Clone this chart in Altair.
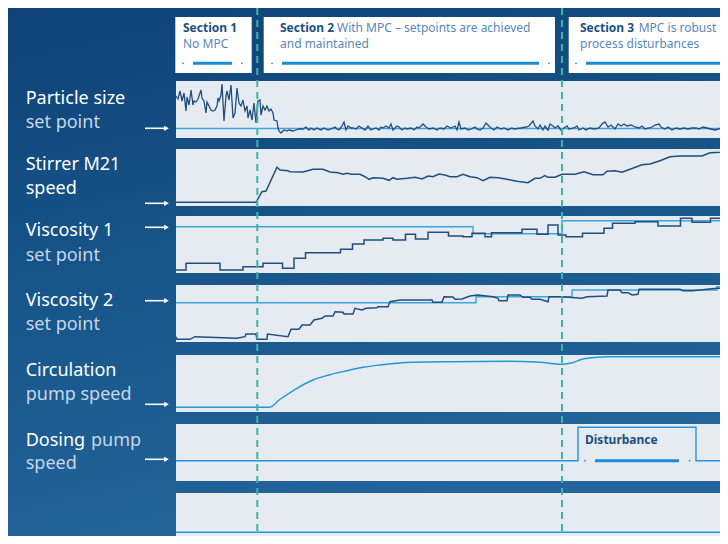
import altair as alt
import pandas as pd

# ---------------- values ----------------
# time axis: samples (0 = left edge of the trend panels); levels: panel units (0 = panel floor)
particle_size = [
    (0,42),(2,39),(4,47),(6,37),(8,45),(10,27),(11,41),(13,33),(15,48),(17,33),(18,37),(20,36),
    (22,39),(25,48),(26,40),(28,37),(30,25),(31,36),(33,32),(35,28),(37,27),(39,28),(41,32),(42,40),
    (43,37),(45,43),(46,54),(48,17),(50,42),(51,47),(53,38),(55,53),(57,20),(59,25),(61,50),(63,35),
    (65,32),(67,38),(69,27),(71,32),(72,20),(74,28),(76,18),(78,35),(80,15),(82,37),(84,38),(85,23),
    (87,32),(89,28),(91,32),(93,27),(95,29),(97,25),(98,18),(101,17),(102,10),(103,7),(105,5),(108,8),
    (111,7),(113,8),(117,7),(120,8),(123,9),
    (127,9),(130,11),(133,8),(135,10),(138,8),(141,10),(145,8),(148,10),(152,8),(155,9),(159,11),
    (161,9),(163,8),(166,12),(168,16),(170,8),(172,12),(175,10),(177,10),(180,9),(183,12),(186,10),
    (189,8),(192,12),(195,8),(197,9),(200,10),(203,8),(205,11),(207,10),(210,12),(213,10),(215,14),
    (217,8),(221,12),(223,11),(226,8),(229,10),(231,9),(235,10),(238,8),(241,11),(243,10),(247,14),
    (250,11),(253,9),(257,10),(261,8),(264,10),(268,9),(271,12),(275,10),(279,12),(281,8),(283,16),
    (285,9),(289,10),(292,8),(295,9),(299,11),(301,9),(304,8),(307,10),(310,15),(313,12),(315,10),
    (318,8),(321,11),(325,9),(328,10),(332,8),(336,10),(338,9),(345,10),(350,11),(353,12),(357,17),
    (359,12),(362,9),(364,13),(367,8),(369,12),(372,8),(374,14),(377,12),(379,10),(382,12),(385,8),
    (388,10),(391,12),(393,9),(398,10),(401,12),(403,8),(407,10),(410,8),(414,10),(418,9),(423,10),
    (426,14),(429,16),(432,11),(435,13),(439,9),(442,14),(445,12),(448,14),(451,12),(455,13),(459,11),
    (463,10),(466,12),(469,9),(473,10),(476,11),(479,13),(483,14),(485,11),(489,9),(492,11),(496,8),
    (500,10),(504,9),(508,10),(512,9),(516,10),(520,10),(523,9),(527,11),(531,10),(535,9),(539,8),
    (543,9),(547,12),(549,9),
]
particle_setpoint = [(0, 9.5), (552, 9.5)]

stirrer_speed = [
    (0,3.7),(80,3.7),(86,14.3),(90,15),(101,38.7),(104,36),(112,35.3),(114,34.3),(127,34),(137,36.7),
    (147,36.7),(154,34),(162,33.3),(167,31.7),(171,32.7),(176,31.7),(184,31.7),(189,29.3),(193,26.7),
    (197,28.3),(207,27.7),(213,25.7),(217,28.3),(221,26.7),(231,27.7),(239,28.7),(246,27),(252,30),
    (257,29.3),(263,32),(269,31),(274,29.3),(281,29.3),(287,31.7),(294,29.3),(301,28.3),(307,25.3),
    (314,28.7),(322,28.3),(331,26.7),(341,24.7),(352,23.3),(359,27.7),(364,27.7),(369,30.3),(372,28.7),
    (379,28.7),(386,31.7),(399,31.7),(408,34.3),(417,31.3),(427,31.3),(431,34.7),(439,35.3),(446,33.7),
    (454,36.7),(466,41.3),(474,42),(484,45.3),(494,49.3),(504,50),(526,50),(534,53.3),(544,53.7),(552,56),
]

viscosity1 = [
    (0,3),(10,9.7),(44,3),(67,6.3),(87,9.7),(106.5,4.7),(118,14.7),(129.5,20.3),(164.5,23.7),
    (176.5,29),(188,33),(207,34.7),(217,33),(229.5,38.7),(239.5,34),(252,40.7),(272.5,37),(287,36.3),
    (296,39.7),(309,36.3),(315.5,40.3),(346,43.7),(361,38.7),(372,48),(382,38),(390,36.3),(406.5,39.7),
    (428,44.7),(436.5,49.7),(459,51.3),(482,47),(504.5,54.7),(516,50.7),(534.5,54.7),(547,51.3),(552,51.3),
]
viscosity1_setpoint = [(0,46.3),(297,39.3),(386,52.3),(552,52.3)]

viscosity2 = [
    (0,5.3),(1,2.7),(14,2.7),(19,5.3),(61,3.7),(69,5.3),(70,8),(80,8),(81,2.7),(91,2.7),(91.5,8),
    (112,5.3),(115,12.7),(123,12.7),(126,17),(134,17),(138,22),(146,23.7),(149,26),(157,26),(159,30.3),
    (167,29.7),(168,28),(177,28),(179,33.7),(186,32),(190,33.7),(201,34.3),(202,35.3),(212,35.3),
    (214,40.3),(224,42),(256,42),(257,39.7),(266,39.7),(268,45.3),(277,45),(279,42.7),(286,43),(294,46),
    (302,47),(317,45.3),(322,43.7),(323,41.3),(331,41.3),(332,47),(344,47),(347,44.7),(354,44.7),
    (356,42.7),(364,42.7),(372,40.3),(373,45.3),(386,45.3),(406,43.7),(411,45.3),(431,46),(432,52),
    (444,52),(446,49.3),(452,49.3),(456,47),(462,47.7),(463,52.7),(504,52.7),(507,51.3),(517,51.3),
    (531,52.7),(541,53.7),(552,53.7),
]
viscosity2_setpoint = [(0,39.3),(300,45.3),(396,52),(541,55.3),(552,55.3)]

circulation_speed = [
    (0,4.7),(93,4.7),(104,12.7),(121,23.7),(137,32),(154,37.3),(171,41.3),(187,44.7),(204,47),
    (221,48.7),(237,49.7),(254,50),(274,50.3),(331,50.7),(364,49.7),(386,47.7),(394,48.7),(407,53),
    (421,54.7),(431,55.3),(552,55.3),
]
dosing_speed = [(0,20.3),(402,53.7),(520,20.3),(552,20.3)]
bottom_trace = [(0,11.7),(552,11.7)]

section_breaks = [81.3, 386]

# ---------------- styling / layout ----------------
W, H = 712, 528
FONT = "Noto Sans"
PANEL = "#e6ebf2"
DARK = "#214e7c"
SP = "#3aa6e0"
CIRC = "#2196d9"
TEAL = "#3db5a4"
DECO = "#1b8bd5"
TITLE = "#1d4f7f"
SUB = "#5a88b5"
BRIGHT = "#ffffff"
DIM = "#c6d7e9"

XS = alt.Scale(domain=[-168, 544], nice=False, zero=False)


def X(f):
    return alt.X(f, type="quantitative", scale=XS, axis=None)


def panel(band, series, labels, arrow_level, extras=None):
    top, bot = band
    span = bot - top
    ys = alt.Scale(domain=[0, span], range=[bot - 8, top - 8], nice=False, zero=False)

    def Y(f):
        return alt.Y(f, type="quantitative", scale=ys, axis=None)

    layers = []
    bg = pd.DataFrame({"t0": [0], "t1": [560], "v0": [0], "v1": [span]})
    layers.append(alt.Chart(bg).mark_rect(fill=PANEL, clip=True).encode(
        x=X("t0"), x2="t1", y=Y("v0"), y2="v1"))
    for pts, color, sw, interp in series:
        df = pd.DataFrame(pts, columns=["t", "v"])
        layers.append(alt.Chart(df).mark_line(color=color, strokeWidth=sw, interpolate=interp,
                                              clip=True).encode(x=X("t"), y=Y("v")))
    if extras is not None:
        layers.extend(extras(X, Y))
    if labels:
        ldf = pd.DataFrame(labels, columns=["t", "v", "txt", "c"])
        layers.append(alt.Chart(ldf).mark_text(align="left", baseline="alphabetic", font=FONT,
                                               fontSize=18).encode(
            x=X("t"), y=Y("v"), text="txt:N", color=alt.Color("c:N", scale=None)))
    if arrow_level is not None:
        adf = pd.DataFrame({"a": [-31], "b": [-10], "h": [-9.5], "v": [arrow_level]})
        layers.append(alt.Chart(adf).mark_rule(color="white", strokeWidth=1.6).encode(
            x=X("a"), x2="b", y=Y("v")))
        layers.append(alt.Chart(adf).mark_point(shape="triangle-right", filled=True, size=28,
                                                color="white", opacity=1).encode(
            x=X("h"), y=Y("v")))
    return alt.layer(*layers)


LX = -150.3

p1 = panel((81, 138),
           [(particle_setpoint, SP, 1.4, "linear"), (particle_size, DARK, 1.3, "linear")],
           [(LX, 34.5, "Particle size", BRIGHT), (LX, 9.7, "set point", DIM)], 9.7)
p2 = panel((149, 206), [(stirrer_speed, DARK, 1.5, "linear")],
           [(LX, 36.3, "Stirrer M21", BRIGHT), (LX, 12.5, "speed", BRIGHT)], 2.7)
p3 = panel((216, 273),
           [(viscosity1_setpoint, SP, 1.4, "step-after"), (viscosity1, DARK, 1.5, "step-after")],
           [(LX, 37, "Viscosity 1", BRIGHT), (LX, 12, "set point", DIM)], 45.7)
p4 = panel((285, 342),
           [(viscosity2_setpoint, SP, 1.4, "step-after"), (viscosity2, DARK, 1.5, "linear")],
           [(LX, 36, "Viscosity 2", BRIGHT), (LX, 12, "set point", DIM)], 41.3)
p5 = panel((355, 412), [(circulation_speed, CIRC, 1.4, "monotone")],
           [(LX, 36, "Circulation", BRIGHT), (LX, 12, "pump speed", DIM)], 7.7)


def dosing_extras(X, Y):
    tdf = pd.DataFrame({"t": [409], "v": [36.7], "txt": ["Disturbance"]})
    seg = pd.DataFrame({"a": [419], "b": [503], "v": [20.3]})
    dots = pd.DataFrame({"t": [409, 513.6], "v": [20.3, 20.3]})
    return [
        alt.Chart(tdf).mark_text(align="left", baseline="alphabetic", font=FONT, fontSize=12,
                                 fontWeight="bold", color=TITLE).encode(x=X("t"), y=Y("v"), text="txt:N"),
        alt.Chart(seg).mark_rule(color=DECO, strokeWidth=3).encode(x=X("a"), x2="b", y=Y("v")),
        alt.Chart(dots).mark_circle(color=DECO, size=3, opacity=1).encode(x=X("t"), y=Y("v")),
    ]


p6 = panel((424, 481), [(dosing_speed, CIRC, 1.4, "step-after")],
           [(LX, 35, "Dosing", BRIGHT), (-85, 35, "pump", DIM), (LX, 12, "speed", DIM)], 21.7,
           extras=dosing_extras)
p7 = panel((493, 544), [(bottom_trace, CIRC, 1.4, "linear")], [], None)

# ---------------- header boxes ----------------
HS = alt.Scale(domain=[0, 56], range=[9, 65], nice=False, zero=False)


def HY(f):
    return alt.Y(f, type="quantitative", scale=HS, axis=None)


boxes = pd.DataFrame({"t0": [-0.7, 87.7, 392.7], "t1": [75.7, 379, 560], "v0": [0, 0, 0], "v1": [56, 56, 56]})
titles = pd.DataFrame({"t": [7, 104, 404], "v": [14.7] * 3, "txt": ["Section 1", "Section 2", "Section 3"]})
subs = pd.DataFrame({
    "t": [7, 161, 104, 462.7, 404],
    "v": [30.7, 14.7, 30.7, 14.7, 30.7],
    "txt": ["No MPC", "With MPC \u2013 setpoints are achieved", "and maintained",
            "MPC is robust to", "process disturbances"],
})
deco = pd.DataFrame({"a": [17, 106, 410], "b": [56, 363, 548], "v": [46.3] * 3})
deco_dots = pd.DataFrame({"t": [7, 66, 96, 373, 400], "v": [46.3] * 5})

header = alt.layer(
    alt.Chart(boxes).mark_rect(fill="#ffffff", clip=True).encode(x=X("t0"), x2="t1", y=HY("v0"), y2="v1"),
    alt.Chart(titles).mark_text(align="left", baseline="alphabetic", font=FONT, fontSize=12,
                                fontWeight="bold", color=TITLE).encode(x=X("t"), y=HY("v"), text="txt:N"),
    alt.Chart(subs).mark_text(align="left", baseline="alphabetic", font=FONT, fontSize=12,
                              color=SUB).encode(x=X("t"), y=HY("v"), text="txt:N"),
    alt.Chart(deco).mark_rule(color=DECO, strokeWidth=3).encode(x=X("a"), x2="b", y=HY("v")),
    alt.Chart(deco_dots).mark_circle(color=DECO, size=3, opacity=1).encode(x=X("t"), y=HY("v")),
)

# ---------------- background and section separators ----------------
bgdf = pd.DataFrame({"t0": [-168], "t1": [544]})
background = alt.Chart(bgdf).mark_rect(
    fill=alt.LinearGradient(gradient="linear",
                            stops=[alt.GradientStop(color="#0e4276", offset=0),
                                   alt.GradientStop(color="#175589", offset=0.5),
                                   alt.GradientStop(color="#23649a", offset=1)],
                            x1=0, x2=0.3, y1=0, y2=1)
).encode(x=X("t0"), x2="t1", y=alt.value(0), y2=alt.value(H))

seps = alt.Chart(pd.DataFrame({"t": section_breaks})).mark_rule(
    color=TEAL, strokeWidth=2, strokeDash=[7, 5]).encode(x=X("t"))

chart = alt.layer(background, header, p1, p2, p3, p4, p5, p6, p7, seps).resolve_scale(
    y="independent"
).properties(
    width=W, height=H, padding=0, background="#15508a",
    autosize=alt.AutoSizeParams(type="none"),
).configure_view(stroke=None)

chart.save("out.html", embed_options={"renderer": "svg", "actions": False})
